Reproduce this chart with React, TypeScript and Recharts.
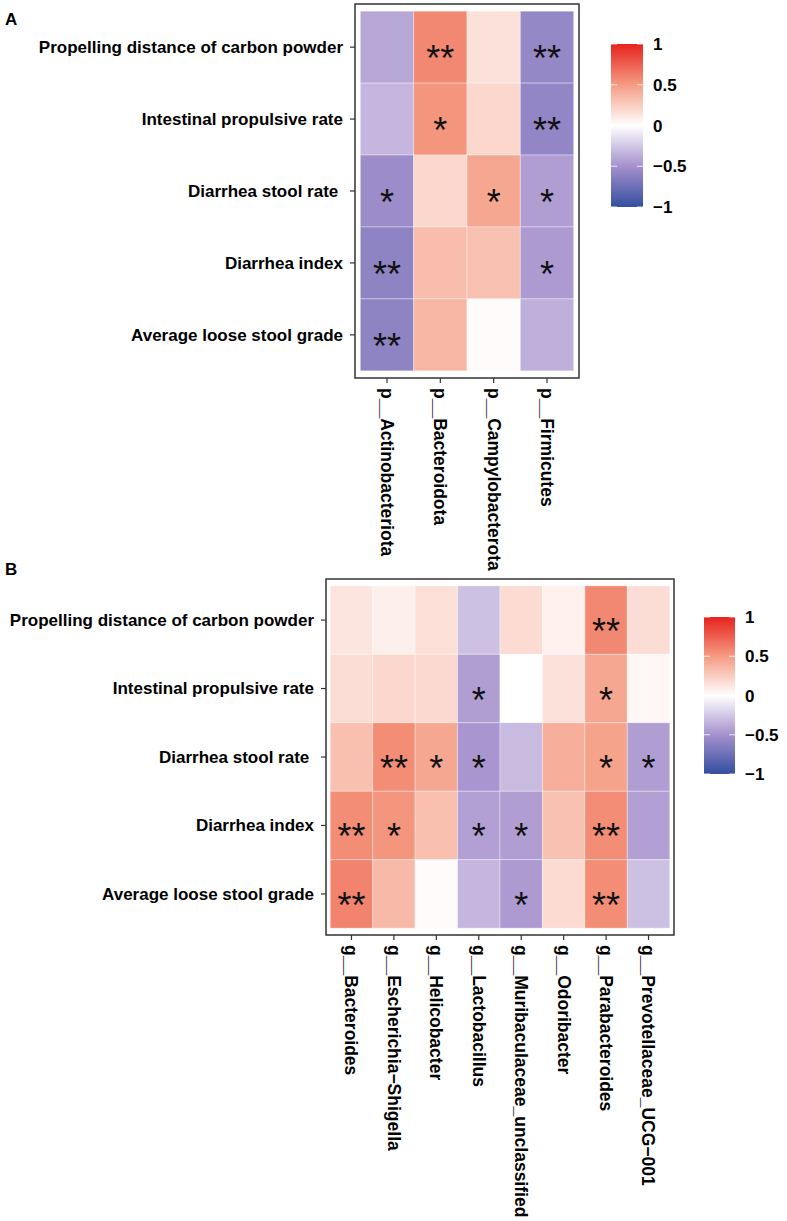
import React from "react";
import { ScatterChart, Scatter, XAxis, YAxis, ReferenceArea } from "recharts";

const traits = [
  "Propelling distance of carbon powder",
  "Intestinal propulsive rate",
  "Diarrhea stool rate ",
  "Diarrhea index",
  "Average loose stool grade",
];

const phyla = ["p__Actinobacteriota", "p__Bacteroidota", "p__Campylobacterota", "p__Firmicutes"];

const genera = [
  "g__Bacteroides",
  "g__Escherichia\u2212Shigella",
  "g__Helicobacter",
  "g__Lactobacillus",
  "g__Muribaculaceae_unclassified",
  "g__Odoribacter",
  "g__Parabacteroides",
  "g__Prevotellaceae_UCG\u2212001",
];

// correlation r, rows = traits, cols = taxa
const phylumR = [
  [-0.4, 0.58, 0.15, -0.57],
  [-0.33, 0.52, 0.2, -0.58],
  [-0.54, 0.2, 0.44, -0.44],
  [-0.6, 0.33, 0.31, -0.46],
  [-0.6, 0.36, 0.02, -0.36],
];

const phylumSig = [
  ["", "**", "", "**"],
  ["", "*", "", "**"],
  ["*", "", "*", "*"],
  ["**", "", "", "*"],
  ["**", "", "", ""],
];

const genusR = [
  [0.13, 0.08, 0.16, -0.28, 0.18, 0.07, 0.58, 0.17],
  [0.17, 0.2, 0.19, -0.44, 0.0, 0.15, 0.44, 0.04],
  [0.32, 0.56, 0.44, -0.48, -0.31, 0.4, 0.46, -0.44],
  [0.56, 0.52, 0.32, -0.43, -0.44, 0.31, 0.56, -0.43],
  [0.6, 0.35, 0.02, -0.33, -0.46, 0.18, 0.56, -0.28],
];

const genusSig = [
  ["", "", "", "", "", "", "**", ""],
  ["", "", "", "*", "", "", "*", ""],
  ["", "**", "*", "*", "", "", "*", "*"],
  ["**", "*", "", "*", "*", "", "**", ""],
  ["**", "", "", "", "*", "", "**", ""],
];

const legendTicks = [1, 0.5, 0, -0.5, -1];

const FONT = "'Liberation Sans', Arial, Helvetica, sans-serif";

// blue - white - red scale
const anchors: [number, number[]][] = [
  [-1, [52, 78, 160]],
  [-0.5, [165, 145, 205]],
  [0, [255, 255, 255]],
  [0.5, [245, 155, 130]],
  [1, [230, 35, 30]],
];

function colorFor(v: number) {
  for (let i = 0; i < anchors.length - 1; i++) {
    const [v0, c0] = anchors[i];
    const [v1, c1] = anchors[i + 1];
    if (v >= v0 && v <= v1) {
      const t = (v - v0) / (v1 - v0);
      const c = c0.map((a, k) => Math.round(a + (c1[k] - a) * t));
      return `rgb(${c[0]},${c[1]},${c[2]})`;
    }
  }
  return v < 0 ? "rgb(52,78,160)" : "rgb(230,35,30)";
}

function buildCells(r: number[][], sig: string[][]) {
  return r.flatMap((row, yi) => row.map((val, xi) => ({ x: xi, y: yi, r: val, sig: sig[yi][xi] })));
}

const makeCell = (cw: number, ch: number) => (props: any) => {
  const { cx, cy, payload } = props;
  return (
    <g>
      <rect
        x={cx - cw / 2}
        y={cy - ch / 2}
        width={cw}
        height={ch}
        fill={colorFor(payload.r)}
        stroke="#ffffff"
        strokeOpacity={0.35}
        strokeWidth={1}
      />
      {payload.sig ? (
        <text x={cx} y={cy + 24} textAnchor="middle" fontSize={36} fontFamily={FONT} fill="#111">
          {payload.sig}
        </text>
      ) : null}
    </g>
  );
};

interface PanelProps {
  cols: string[];
  r: number[][];
  sig: string[][];
  width: number;
  height: number;
  margin: { top: number; right: number; bottom: number; left: number };
  yWidth: number;
  xHeight: number;
}

function HeatPanel({ cols, r, sig, width, height, margin, yWidth, xHeight }: PanelProps) {
  const plotW = width - margin.left - margin.right - yWidth;
  const plotH = height - margin.top - margin.bottom - xHeight;
  const xSpan = cols.length + 0.2;
  const ySpan = traits.length + 0.2;
  const cw = plotW / xSpan;
  const ch = plotH / ySpan;
  const data = buildCells(r, sig);

  const XTick = ({ x, y, payload }: any) => (
    <text
      transform={`translate(${x},${y}) rotate(90)`}
      textAnchor="start"
      dy="0.35em"
      fontSize={17.5}
      fontWeight="bold"
      fontFamily={FONT}
      fill="#000"
    >
      {cols[payload.value]}
    </text>
  );

  const YTick = ({ x, y, payload }: any) => (
    <text
      x={x}
      y={y}
      dy="0.35em"
      textAnchor="end"
      fontSize={17}
      fontWeight="bold"
      fontFamily={FONT}
      fill="#000"
      style={{ whiteSpace: "pre" }}
    >
      {traits[payload.value]}
    </text>
  );

  return (
    <ScatterChart width={width} height={height} margin={margin}>
      <XAxis
        type="number"
        dataKey="x"
        domain={[-0.6, cols.length - 0.4]}
        ticks={cols.map((_, i) => i)}
        interval={0}
        allowDataOverflow
        axisLine={false}
        tickLine={{ stroke: "#333", strokeWidth: 1.2 }}
        tickSize={5}
        tickMargin={5}
        height={xHeight}
        tick={<XTick />}
      />
      <YAxis
        type="number"
        dataKey="y"
        reversed
        domain={[-0.6, traits.length - 0.4]}
        ticks={traits.map((_, i) => i)}
        interval={0}
        allowDataOverflow
        axisLine={false}
        tickLine={{ stroke: "#333", strokeWidth: 1.2 }}
        tickSize={5}
        tickMargin={7}
        width={yWidth}
        tick={<YTick />}
      />
      <Scatter data={data} shape={makeCell(cw, ch)} isAnimationActive={false} />
      <ReferenceArea
        x1={-0.6}
        x2={cols.length - 0.4}
        y1={-0.6}
        y2={traits.length - 0.4}
        fill="none"
        stroke="#333"
        strokeWidth={1.5}
        ifOverflow="visible"
      />
    </ScatterChart>
  );
}

function ColorBar({ id, x, y, w, h, labelX }: { id: string; x: number; y: number; w: number; h: number; labelX: number }) {
  const steps = Array.from({ length: 41 }, (_, i) => 1 - i / 20);
  const pos = (v: number) => y + ((1 - v) / 2) * h;
  return (
    <g>
      <defs>
        <linearGradient id={id} x1="0" y1="0" x2="0" y2="1">
          {steps.map((v, i) => (
            <stop key={i} offset={`${(i / 40) * 100}%`} stopColor={colorFor(v)} />
          ))}
        </linearGradient>
      </defs>
      <rect x={x} y={y} width={w} height={h} fill={`url(#${id})`} />
      {legendTicks.map((v) => (
        <g key={v}>
          <line x1={x} x2={x + 6} y1={pos(v)} y2={pos(v)} stroke="#fff" strokeOpacity={0.8} strokeWidth={1} />
          <line x1={x + w - 6} x2={x + w} y1={pos(v)} y2={pos(v)} stroke="#fff" strokeOpacity={0.8} strokeWidth={1} />
          <text x={labelX} y={pos(v)} dy="0.36em" fontSize={17} fontWeight="bold" fontFamily={FONT} fill="#000">
            {v < 0 ? `\u2212${Math.abs(v)}` : `${v}`}
          </text>
        </g>
      ))}
    </g>
  );
}

export default function App() {
  return (
    <div style={{ position: "absolute", left: 0, top: 0, width: 787, height: 1221, background: "#fff" }}>
      <div style={{ position: "absolute", left: 0, top: 0 }}>
        <HeatPanel
          cols={phyla}
          r={phylumR}
          sig={phylumSig}
          width={787}
          height={578}
          margin={{ top: 4, right: 208, bottom: 0, left: 0 }}
          yWidth={355}
          xHeight={200}
        />
      </div>
      <div style={{ position: "absolute", left: 0, top: 578 }}>
        <HeatPanel
          cols={genera}
          r={genusR}
          sig={genusSig}
          width={787}
          height={643}
          margin={{ top: 1, right: 113, bottom: 0, left: 0 }}
          yWidth={326}
          xHeight={286}
        />
      </div>
      <svg
        width={787}
        height={1221}
        style={{ position: "absolute", left: 0, top: 0, pointerEvents: "none" }}
      >
        <text x={5} y={25} fontSize={17} fontWeight="bold" fontFamily={FONT} fill="#000">
          A
        </text>
        <text x={5} y={575} fontSize={17} fontWeight="bold" fontFamily={FONT} fill="#000">
          B
        </text>
        <ColorBar id="barA" x={611} y={44} w={32} h={163} labelX={653} />
        <ColorBar id="barB" x={704} y={617} w={31} h={157} labelX={745} />
      </svg>
    </div>
  );
}
